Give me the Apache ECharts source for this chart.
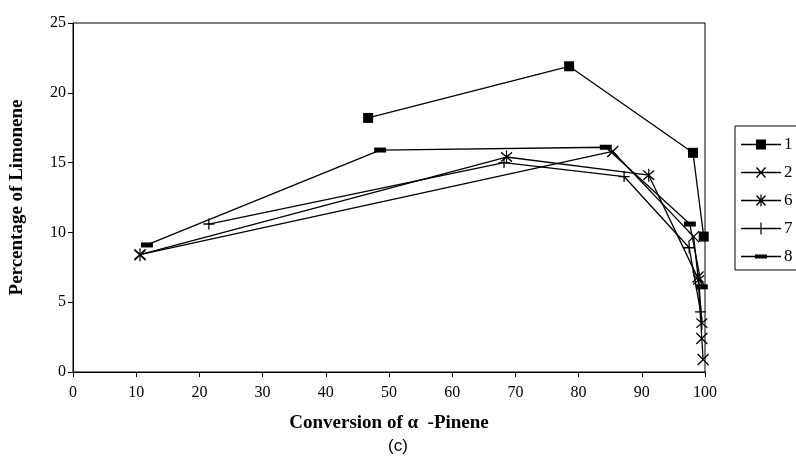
<!DOCTYPE html>
<html>
<head>
<meta charset="utf-8">
<script src="https://cdn.jsdelivr.net/npm/echarts@6/dist/echarts.min.js"></script>
<style>
  html, body { margin: 0; padding: 0; background: #fff; }
  #chart { width: 796px; height: 464px; }
</style>
</head>
<body>
<div id="chart"></div>
<script>
// Limonene selectivity vs alpha-pinene conversion, runs 1, 2, 6, 7, 8
const seriesNames = ['1', '2', '6', '7', '8'];

const run1 = [[46.7, 18.2], [78.5, 21.9], [98.1, 15.7], [99.8, 9.7]];
const run2 = [[10.6, 8.4], [85.4, 15.8], [98.2, 9.7], [98.9, 6.8], [99.5, 2.4], [99.7, 0.9]];
const run6 = [[10.6, 8.4], [68.6, 15.4], [91.1, 14.1], [99.0, 6.6], [99.5, 3.5]];
const run7 = [[21.5, 10.6], [68.2, 15.0], [87.2, 14.0], [97.5, 8.9], [99.3, 4.3]];
const run8 = [[11.7, 9.1], [48.6, 15.9], [84.3, 16.1], [97.6, 10.6], [99.5, 6.1]];

const xTicks = { min: 0, max: 100, interval: 10 };
const yTicks = { min: 0, max: 25, interval: 5 };

const serif = '"Liberation Serif", "Times New Roman", serif';

// point markers on the curves
const markers = {
  '1': { symbol: 'rect', size: 10 },
  '2': { symbol: 'path://M0,0L10,10M10,0L0,10', size: 11 },
  '6': { symbol: 'path://M0,0L10,10M10,0L0,10M5,-2L5,12', size: [11, 13] },
  '7': { symbol: 'path://M5,0L5,10M0,5L10,5', size: 11 },
  '8': { symbol: 'rect', size: [12, 5] }
};

// legend swatches: connecting line plus marker, in a 40x14 box
const frame = 'M0,0L40,0L40,0ZM0,14L40,14L40,14Z';
const swatchLine = 'M0,6.3h40v1.4h-40z';
const legendIcons = {
  '1': 'path://' + frame + swatchLine + 'M15,2h10v10h-10z',
  '2': 'path://' + frame + swatchLine + 'M15,2.5L16,1.5L25,11.5L24,12.5ZM24,1.5L25,2.5L16,12.5L15,11.5Z',
  '6': 'path://' + frame + swatchLine + 'M15,2.5L16,1.5L25,11.5L24,12.5ZM24,1.5L25,2.5L16,12.5L15,11.5ZM19.4,1h1.2v12h-1.2z',
  '7': 'path://' + frame + swatchLine + 'M19.4,1h1.2v12h-1.2z',
  '8': 'path://' + frame + swatchLine + 'M14,5h12v4h-12z'
};

const runs = [run1, run2, run6, run7, run8];

const chart = echarts.init(document.getElementById('chart'));

chart.setOption({
  animation: false,
  backgroundColor: '#fff',
  grid: {
    left: 73, top: 23, right: 91, bottom: 92,
    show: true, borderColor: '#000', borderWidth: 1, backgroundColor: 'transparent'
  },
  xAxis: {
    type: 'value',
    min: xTicks.min, max: xTicks.max, interval: xTicks.interval,
    name: 'Conversion of \u03b1  -Pinene',
    nameLocation: 'middle', nameGap: 42,
    nameTextStyle: { fontFamily: serif, fontWeight: 'bold', fontSize: 19, color: '#000' },
    axisLine: { show: true, lineStyle: { color: '#000', width: 1 } },
    axisTick: { show: true, inside: false, length: 5, lineStyle: { color: '#000' } },
    axisLabel: { fontFamily: serif, fontSize: 16, color: '#000', margin: 13 },
    splitLine: { show: false }
  },
  yAxis: {
    type: 'value',
    min: yTicks.min, max: yTicks.max, interval: yTicks.interval,
    name: 'Percentage of Limonene',
    nameLocation: 'middle', nameGap: 46,
    nameTextStyle: { fontFamily: serif, fontWeight: 'bold', fontSize: 19, color: '#000' },
    axisLine: { show: true, lineStyle: { color: '#000', width: 1 } },
    axisTick: { show: true, inside: false, length: 5, lineStyle: { color: '#000' } },
    axisLabel: { fontFamily: serif, fontSize: 16, color: '#000', margin: 7 },
    splitLine: { show: false }
  },
  legend: {
    orient: 'vertical',
    left: 735, top: 126,
    padding: [10, 14, 5, 6],
    borderColor: '#000', borderWidth: 1,
    itemWidth: 40, itemHeight: 14, itemGap: 11,
    itemStyle: { color: '#000', borderWidth: 0 },
    textStyle: { fontFamily: serif, fontSize: 17, lineHeight: 14, color: '#000', padding: [0, 0, 0, -2] },
    data: seriesNames.map(n => ({ name: n, icon: legendIcons[n] }))
  },
  graphic: [{
    type: 'text', left: 'center', top: 438,
    style: { text: '(c)', font: '17px "Liberation Sans", Arial, sans-serif', fill: '#000' }
  }],
  series: seriesNames.map((name, i) => ({
    name: name,
    type: 'line',
    data: runs[i],
    symbol: markers[name].symbol,
    symbolSize: markers[name].size,
    showAllSymbol: true,
    clip: false,
    lineStyle: { color: '#000', width: 1.3 },
    itemStyle: { color: '#000', borderColor: '#000', borderWidth: name === '1' || name === '8' ? 0 : 1.3 },
    emphasis: { disabled: true }
  }))
});
</script>
</body>
</html>
